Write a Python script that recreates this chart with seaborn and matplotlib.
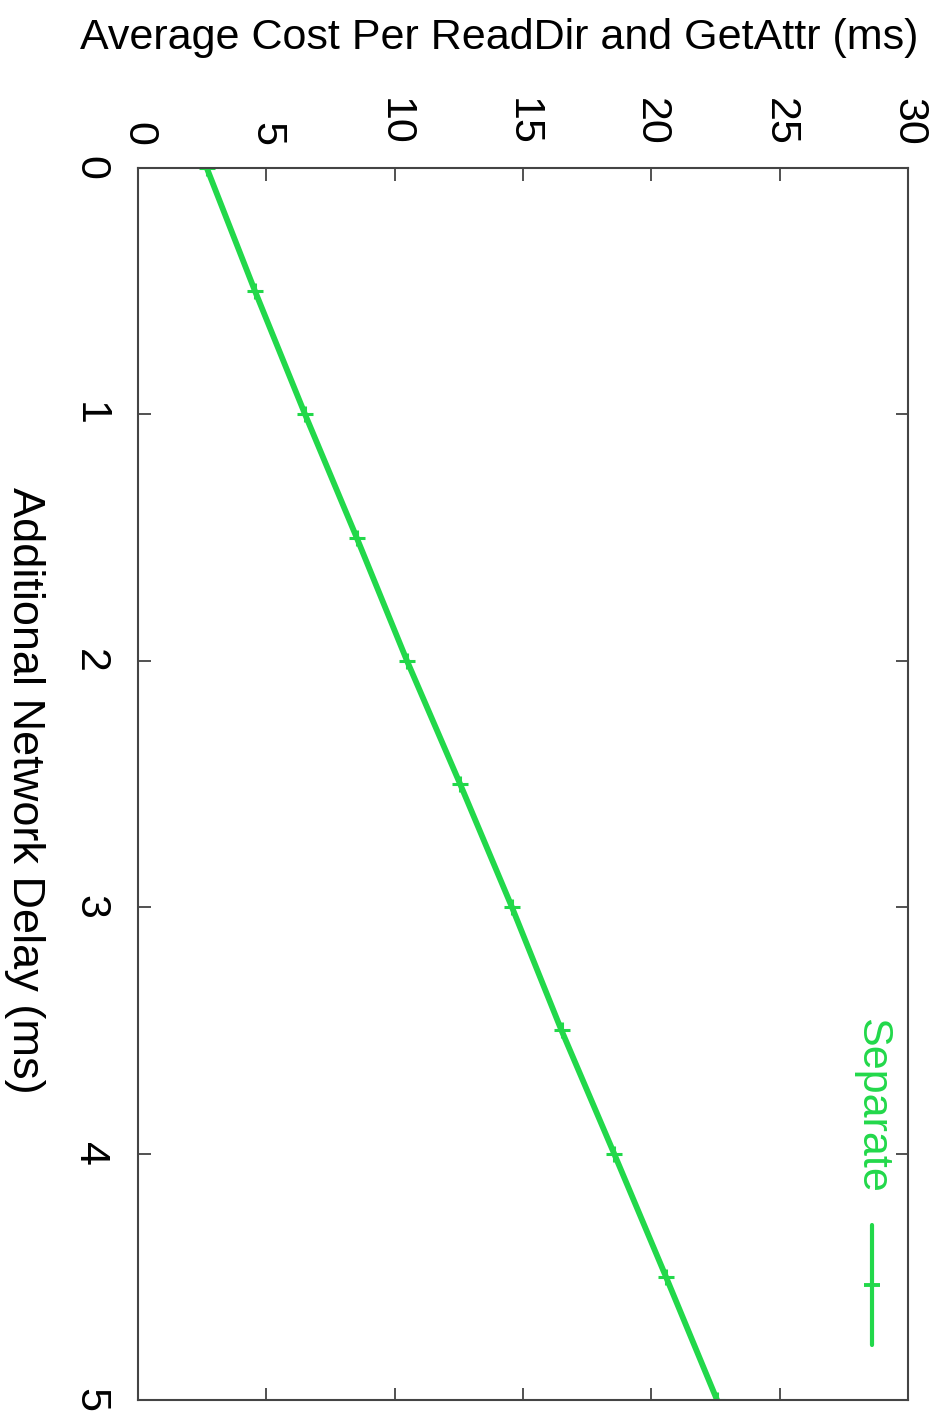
import matplotlib
matplotlib.use("Agg")
import matplotlib.pyplot as plt
import seaborn as sns
import pandas as pd
from matplotlib.lines import Line2D

# ---- data ----
delay_ms = [0, 0.5, 1, 1.5, 2, 2.5, 3, 3.5, 4, 4.5, 5]
cost_ms = [2.68, 4.56, 6.51, 8.52, 10.48, 12.55, 14.57, 16.50, 18.55, 20.57, 22.56]
series_name = "Separate"
delay_ticks = [0, 1, 2, 3, 4, 5]
cost_ticks = [0, 5, 10, 15, 20, 25, 30]
title_text = "Average Cost Per ReadDir and GetAttr (ms)"
delay_label = "Additional Network Delay (ms)"

df = pd.DataFrame({"delay": delay_ms, "cost": cost_ms, "series": series_name})

sns.set_theme(style="white")
plt.rcParams["font.family"] = ["Liberation Sans", "DejaVu Sans"]
plt.rcParams["text.color"] = "black"
plt.rcParams["axes.labelcolor"] = "black"
plt.rcParams["xtick.color"] = "black"
plt.rcParams["ytick.color"] = "black"

GREEN = "#22d84a"
W, H = 938, 1421
fig = plt.figure(figsize=(W / 100, H / 100), dpi=100)
ax = fig.add_axes([138 / W, 21 / H, 770 / W, 1232 / H])

sns.lineplot(data=df, x="cost", y="delay", sort=False, orient="y",
             color=GREEN, linewidth=4.2, marker="+", markersize=11,
             markeredgewidth=2.2, markeredgecolor=GREEN, ax=ax, legend=False)

ax.set_xlim(0, 30)
ax.set_ylim(5, 0)
ax.set_xticks(cost_ticks)
ax.set_yticks(delay_ticks)
ax.set_xticklabels([str(t) for t in cost_ticks], rotation=-90)
ax.set_yticklabels([str(t) for t in delay_ticks], rotation=-90, va="center")

ax.tick_params(axis="x", which="both", direction="in", top=True, bottom=True,
               labeltop=True, labelbottom=False, length=9, width=1.2,
               color="#333333", labelcolor="black", labelsize=31, pad=16)
ax.tick_params(axis="y", which="both", direction="in", left=True, right=True,
               labelleft=True, labelright=False, length=9, width=1.2,
               color="#333333", labelcolor="black", labelsize=31, pad=20)

for s in ax.spines.values():
    s.set_color("#444444")
    s.set_linewidth(1.5)
    s.set_visible(True)

ax.set_xlabel("")
ax.set_ylabel(delay_label, rotation=-90, fontsize=32.5, va="center",
              ha="center", color="black")
ax.yaxis.set_label_coords(-0.147, 0.495)

fig.text(80 / W, 1 - 38 / H, title_text, fontsize=31, ha="left",
         va="center", color="black")

# legend (rotated with the rest of the chart)
ax.text(0.953, 0.2394, series_name, transform=ax.transAxes, rotation=-90,
        fontsize=31, color=GREEN, ha="center", va="center")
ax.add_line(Line2D([0.953, 0.953], [0.142, 0.0446], transform=ax.transAxes,
                   color=GREEN, linewidth=3))
ax.add_line(Line2D([0.953], [0.0935], transform=ax.transAxes, color=GREEN,
                   marker="_", markersize=11, markeredgewidth=2.8))

fig.savefig("out.png", dpi=100, facecolor="white")
